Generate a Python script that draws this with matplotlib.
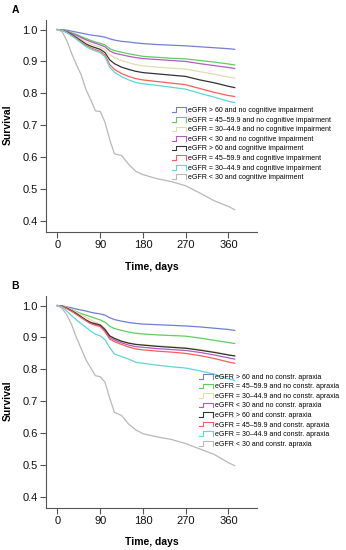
import matplotlib
matplotlib.use("Agg")
import matplotlib.pyplot as plt
from matplotlib.legend_handler import HandlerLine2D
from matplotlib.lines import Line2D

plt.rcParams['font.family'] = ['Liberation Sans', 'DejaVu Sans']

days = [0, 10, 20, 30, 40, 50, 60, 70, 80, 90, 100, 110, 120, 135, 150, 165,
        180, 210, 240, 270, 300, 330, 360, 373]

# panel A: cognitive impairment
a_gt60_no = [1.0, 1.0, 0.998, 0.995, 0.992, 0.989, 0.986, 0.983, 0.981, 0.979, 0.976, 0.971,
             0.967, 0.963, 0.961, 0.958, 0.956, 0.953, 0.951, 0.949, 0.946, 0.943, 0.940, 0.938]
a_45_no = [1.0, 0.999, 0.995, 0.99, 0.985, 0.978, 0.972, 0.966, 0.961, 0.957, 0.952, 0.94,
           0.934, 0.929, 0.924, 0.92, 0.916, 0.913, 0.910, 0.908, 0.903, 0.898, 0.892, 0.889]
a_30_no = [1.0, 0.998, 0.993, 0.986, 0.978, 0.97, 0.962, 0.955, 0.95, 0.945, 0.937, 0.921,
           0.912, 0.903, 0.896, 0.89, 0.886, 0.882, 0.879, 0.876, 0.868, 0.860, 0.851, 0.848]
a_lt30_no = [1.0, 0.999, 0.994, 0.988, 0.982, 0.975, 0.968, 0.962, 0.957, 0.952, 0.946, 0.933,
             0.926, 0.921, 0.916, 0.912, 0.909, 0.906, 0.903, 0.900, 0.893, 0.887, 0.881, 0.878]
a_gt60_ci = [1.0, 0.998, 0.992, 0.984, 0.975, 0.965, 0.955, 0.948, 0.943, 0.938, 0.928, 0.905,
             0.893, 0.882, 0.875, 0.869, 0.865, 0.861, 0.857, 0.853, 0.842, 0.833, 0.822, 0.818]
a_45_ci = [1.0, 0.998, 0.991, 0.982, 0.972, 0.961, 0.950, 0.943, 0.937, 0.932, 0.92, 0.89,
           0.875, 0.862, 0.853, 0.846, 0.842, 0.837, 0.832, 0.827, 0.815, 0.803, 0.793, 0.790]
a_30_ci = [1.0, 0.998, 0.990, 0.980, 0.970, 0.958, 0.947, 0.939, 0.933, 0.928, 0.915, 0.882,
           0.866, 0.852, 0.842, 0.834, 0.830, 0.825, 0.819, 0.813, 0.800, 0.788, 0.775, 0.771]
a_lt30_ci = [1.0, 0.993, 0.965, 0.925, 0.89, 0.858, 0.812, 0.78, 0.745, 0.743, 0.71, 0.655,
             0.61, 0.605, 0.577, 0.555, 0.545, 0.532, 0.523, 0.51, 0.487, 0.463, 0.445, 0.435]

# panel B: constructional apraxia
b_gt60_no = [1.0, 0.999, 0.996, 0.993, 0.989, 0.986, 0.983, 0.979, 0.976, 0.974, 0.970, 0.962,
             0.956, 0.951, 0.947, 0.944, 0.942, 0.940, 0.938, 0.936, 0.933, 0.929, 0.925, 0.922]
b_45_no = [1.0, 0.999, 0.994, 0.988, 0.981, 0.975, 0.970, 0.965, 0.960, 0.955, 0.948, 0.935,
           0.928, 0.922, 0.917, 0.913, 0.911, 0.908, 0.906, 0.904, 0.898, 0.891, 0.884, 0.881]
b_30_no = [1.0, 0.999, 0.994, 0.987, 0.979, 0.971, 0.963, 0.955, 0.948, 0.941, 0.929, 0.905,
           0.897, 0.889, 0.883, 0.879, 0.877, 0.874, 0.871, 0.868, 0.862, 0.855, 0.846, 0.842]
b_lt30_no = [1.0, 0.998, 0.991, 0.983, 0.974, 0.964, 0.954, 0.946, 0.941, 0.937, 0.922, 0.900,
             0.892, 0.883, 0.876, 0.871, 0.869, 0.865, 0.862, 0.859, 0.853, 0.845, 0.836, 0.832]
b_gt60_ci = [1.0, 0.998, 0.992, 0.984, 0.975, 0.965, 0.955, 0.947, 0.943, 0.939, 0.925, 0.905,
             0.897, 0.888, 0.882, 0.878, 0.876, 0.872, 0.869, 0.866, 0.860, 0.853, 0.845, 0.842]
b_45_ci = [1.0, 0.998, 0.990, 0.982, 0.972, 0.962, 0.952, 0.943, 0.938, 0.934, 0.918, 0.895,
           0.887, 0.878, 0.870, 0.864, 0.861, 0.857, 0.854, 0.850, 0.843, 0.834, 0.823, 0.819]
b_30_ci = [1.0, 0.995, 0.982, 0.968, 0.955, 0.943, 0.932, 0.920, 0.910, 0.905, 0.893, 0.868,
           0.848, 0.840, 0.832, 0.822, 0.819, 0.813, 0.808, 0.804, 0.795, 0.785, 0.770, 0.765]
b_lt30_ci = [1.0, 0.991, 0.97, 0.94, 0.90, 0.865, 0.83, 0.805, 0.78, 0.777, 0.76, 0.71,
             0.665, 0.655, 0.628, 0.61, 0.598, 0.588, 0.58, 0.567, 0.55, 0.533, 0.507, 0.498]

labels_a = ["eGFR > 60 and no cognitive impairment",
            "eGFR = 45–59.9 and no cognitive impairment",
            "eGFR = 30–44.9 and no cognitive impairment",
            "eGFR < 30 and no cognitive impairment",
            "eGFR > 60 and cognitive impairment",
            "eGFR = 45–59.9 and cognitive impairment",
            "eGFR = 30–44.9 and cognitive impairment",
            "eGFR < 30 and cognitive impairment"]
labels_b = ["eGFR > 60 and no constr. apraxia",
            "eGFR = 45–59.9 and no constr. apraxia",
            "eGFR = 30–44.9 and no constr. apraxia",
            "eGFR < 30 and no constr. apraxia",
            "eGFR > 60 and constr. apraxia",
            "eGFR = 45–59.9 and constr. apraxia",
            "eGFR = 30–44.9 and constr. apraxia",
            "eGFR < 30 and constr. apraxia"]

colors = ['#6f7fd6', '#5ccf5c', '#e3dcaa', '#b25cc4', '#333333', '#ff5b5b', '#5cd6d6', '#b8b8b8']


class StepHandler(HandlerLine2D):
    # little step glyph like the SPSS legend
    def create_artists(self, legend, orig_handle, xdescent, ydescent,
                       width, height, fontsize, trans):
        x0 = -xdescent
        y0 = -ydescent
        xs = [x0, x0 + 0.3 * width, x0 + 0.3 * width, x0 + width, x0 + width]
        ys = [y0 + 0.1 * height, y0 + 0.1 * height, y0 + 0.9 * height,
              y0 + 0.9 * height, y0 + 0.1 * height]
        ln = Line2D(xs, ys, color=orig_handle.get_color(), lw=0.8)
        ln.set_transform(trans)
        return [ln]


fig = plt.figure(figsize=(3.46, 5.5), dpi=100)
ax_a = fig.add_axes([46 / 346, 1 - 232 / 550, 211 / 346, 212 / 550])
ax_b = fig.add_axes([46 / 346, 1 - 508 / 550, 211 / 346, 212 / 550])

panels = [
    (ax_a, [a_gt60_no, a_45_no, a_30_no, a_lt30_no, a_gt60_ci, a_45_ci, a_30_ci, a_lt30_ci],
     labels_a, 'A', (0.597, 0.59), -0.141),
    (ax_b, [b_gt60_no, b_45_no, b_30_no, b_lt30_no, b_gt60_ci, b_45_ci, b_30_ci, b_lt30_ci],
     labels_b, 'B', (0.725, 0.635), -0.135),
]

for ax, series, labels, tag, leg_pos, xl_y in panels:
    handles = []
    for vals, col, lab in zip(series, colors, labels):
        h, = ax.plot(days, vals, color=col, lw=0.9, label=lab)
        handles.append(h)
    ax.set_xlim(-24, 420)
    ax.set_ylim(0.365, 1.03)
    ax.set_xticks([0, 90, 180, 270, 360])
    ax.set_yticks([0.4, 0.5, 0.6, 0.7, 0.8, 0.9, 1.0])
    ax.set_yticklabels(['0.4', '0.5', '0.6', '0.7', '0.8', '0.9', '1.0'])
    for s in ['top', 'right']:
        ax.spines[s].set_visible(False)
    for s in ['left', 'bottom']:
        ax.spines[s].set_color('#555555')
        ax.spines[s].set_linewidth(0.8)
    ax.tick_params(direction='out', length=4, width=0.8, color='#555555',
                   labelsize=8, pad=2, labelcolor='#111111')
    ax.set_xlabel('Time, days', fontsize=7.5, fontweight='bold')
    ax.set_ylabel('Survival', fontsize=7.5, fontweight='bold')
    ax.xaxis.set_label_coords(0.502, xl_y)
    ax.yaxis.set_label_coords(-0.156, 0.505)
    ax.text(-0.145, 1.045, tag, transform=ax.transAxes, fontsize=7.5,
            fontweight='bold', ha='center', va='center')
    ax.legend(handles=handles, loc='upper left', bbox_to_anchor=leg_pos,
              frameon=False, fontsize=5.0, handlelength=2.0, handleheight=0.9,
              handletextpad=0.3, labelspacing=0.33, borderpad=0, borderaxespad=0,
              handler_map={Line2D: StepHandler()})

fig.savefig('out.png', dpi=100)
